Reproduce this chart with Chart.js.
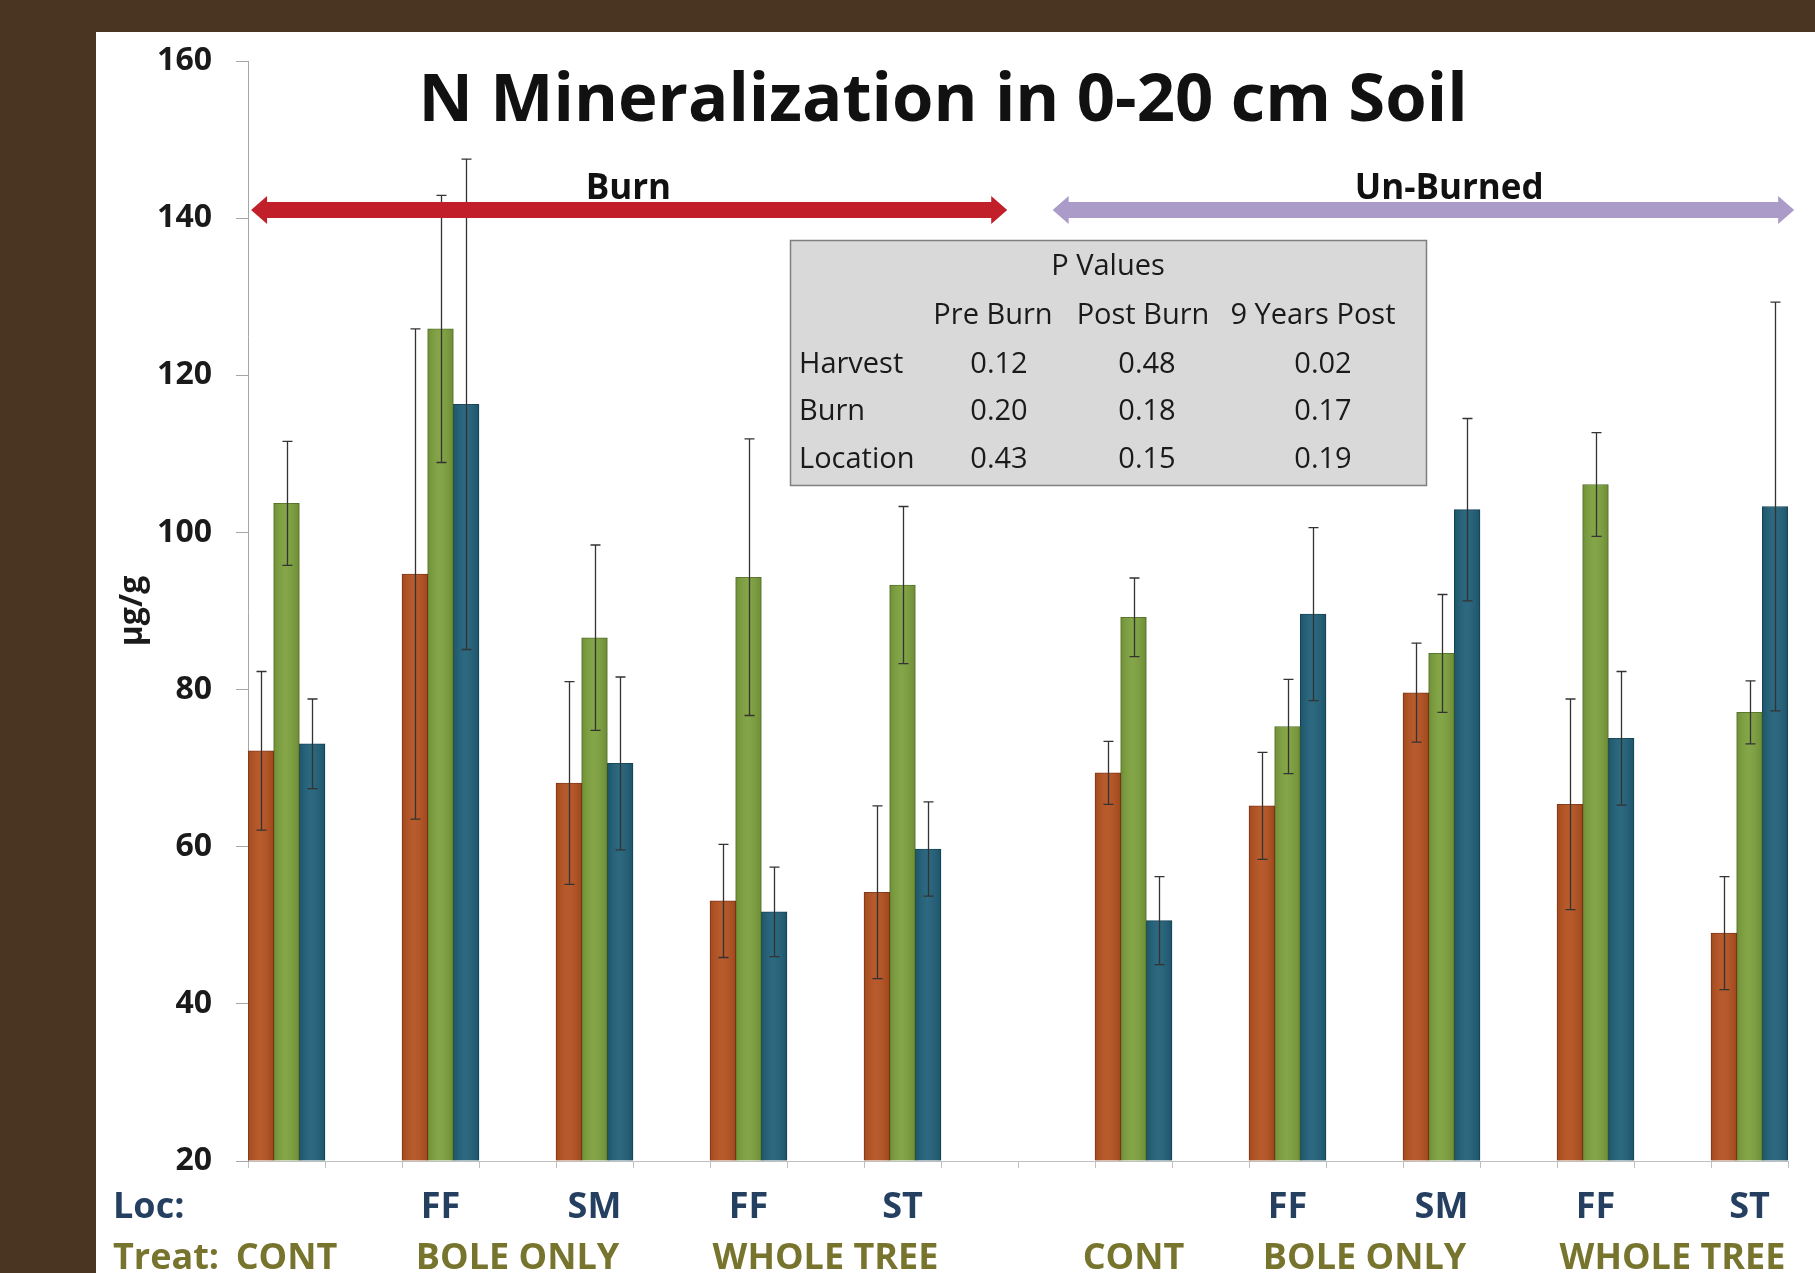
<!DOCTYPE html>
<html>
<head>
<meta charset="utf-8">
<script src="https://cdn.jsdelivr.net/npm/chart.js@4.4.1/dist/chart.umd.min.js"></script>
<style>
  html, body { margin: 0; padding: 0; width: 1815px; height: 1273px; overflow: hidden; background: #4a3523; }
  #panel { position: absolute; left: 96px; top: 32px; width: 1719px; height: 1241px; background: #ffffff; }
  canvas { display: block; }
</style>
</head>
<body>
<div id="panel"><canvas id="chart" width="1719" height="1241"></canvas></div>
<script>
// Category slots along the x axis (empty slots separate the plot groups)
const slots = ['CONT', '', 'FF', '', 'SM', '', 'FF', '', 'ST', '', '', 'CONT', '', 'FF', '', 'SM', '', 'FF', '', 'ST'];
const locLabels = ['', '', 'FF', '', 'SM', '', 'FF', '', 'ST', '', '', '', '', 'FF', '', 'SM', '', 'FF', '', 'ST'];
const treatLabels = ['CONT', '', '', 'BOLE ONLY', '', '', '', 'WHOLE TREE', '', '', '', 'CONT', '', '', 'BOLE ONLY', '', '', '', 'WHOLE TREE', ''];

// N mineralization (µg/g) and standard errors
const preBurn    = [72.2, null, 94.7, null, 68.1, null, 53.1, null, 54.2, null, null, 69.4, null, 65.2, null, 79.6, null, 65.4, null, 49.0];
const postBurn   = [103.7, null, 125.9, null, 86.6, null, 94.3, null, 93.3, null, null, 89.2, null, 75.3, null, 84.6, null, 106.1, null, 77.1];
const nineYears  = [73.1, null, 116.3, null, 70.6, null, 51.7, null, 59.7, null, null, 50.6, null, 89.6, null, 102.9, null, 73.8, null, 103.3];
const preBurnErr   = [10.1, null, 31.2, null, 12.9, null, 7.2, null, 11.0, null, null, 4.0, null, 6.8, null, 6.3, null, 13.4, null, 7.2];
const postBurnErr  = [7.9, null, 17.0, null, 11.8, null, 17.6, null, 10.0, null, null, 5.0, null, 6.0, null, 7.5, null, 6.6, null, 4.0];
const nineYearsErr = [5.7, null, 31.2, null, 11.0, null, 5.7, null, 6.0, null, null, 5.6, null, 11.0, null, 11.6, null, 8.5, null, 26.0];

const yTicks = [20, 40, 60, 80, 100, 120, 140, 160];

// P value table
const pColumns = ['Pre Burn', 'Post Burn', '9 Years Post'];
const pRows = ['Harvest', 'Burn', 'Location'];
const pHarvest  = ['0.12', '0.48', '0.02'];
const pBurn     = ['0.20', '0.18', '0.17'];
const pLocation = ['0.43', '0.15', '0.19'];

const FONT = '"Open Sans", "Noto Sans", "DejaVu Sans", sans-serif';

// Soft cylinder shading over each bar
const barShade = {
  id: 'barShade',
  afterDatasetsDraw(chart) {
    const ctx = chart.ctx;
    ctx.save();
    chart.data.datasets.forEach((ds, di) => {
      chart.getDatasetMeta(di).data.forEach((bar, i) => {
        if (ds.data[i] == null) return;
        const w = bar.width, left = bar.x - w / 2;
        const g = ctx.createLinearGradient(left, 0, left + w, 0);
        g.addColorStop(0, 'rgba(0,0,0,0.10)');
        g.addColorStop(0.45, 'rgba(255,255,255,0.06)');
        g.addColorStop(1, 'rgba(0,0,0,0.12)');
        ctx.fillStyle = g;
        ctx.fillRect(left, bar.y, w, bar.base - bar.y);
      });
    });
    ctx.restore();
  }
};

const errorBars = {
  id: 'errorBars',
  afterDatasetsDraw(chart) {
    const ctx = chart.ctx;
    const y = chart.scales.y;
    ctx.save();
    ctx.strokeStyle = '#333333';
    ctx.lineWidth = 1.3;
    chart.data.datasets.forEach((ds, di) => {
      const meta = chart.getDatasetMeta(di);
      meta.data.forEach((bar, i) => {
        const v = ds.data[i], e = ds.errors[i];
        if (v == null || e == null) return;
        const x = Math.round(bar.x) + 0.5;
        const top = y.getPixelForValue(v + e);
        const bot = y.getPixelForValue(v - e);
        ctx.beginPath();
        ctx.moveTo(x, top); ctx.lineTo(x, bot);
        ctx.moveTo(x - 5, top); ctx.lineTo(x + 5, top);
        ctx.moveTo(x - 5, bot); ctx.lineTo(x + 5, bot);
        ctx.stroke();
      });
    });
    ctx.restore();
  }
};

function arrow(ctx, x1, x2, yc, color) {
  const sh = 8, hl = 16, hh = 14;
  ctx.fillStyle = color;
  ctx.beginPath();
  ctx.moveTo(x1, yc);
  ctx.lineTo(x1 + hl, yc - hh);
  ctx.lineTo(x1 + hl, yc - sh);
  ctx.lineTo(x2 - hl, yc - sh);
  ctx.lineTo(x2 - hl, yc - hh);
  ctx.lineTo(x2, yc);
  ctx.lineTo(x2 - hl, yc + hh);
  ctx.lineTo(x2 - hl, yc + sh);
  ctx.lineTo(x1 + hl, yc + sh);
  ctx.lineTo(x1 + hl, yc + hh);
  ctx.closePath();
  ctx.fill();
}

const annotations = {
  id: 'annotations',
  afterDraw(chart) {
    const ctx = chart.ctx;
    const xs = chart.scales.x, ys = chart.scales.y;
    const area = chart.chartArea;
    ctx.save();

    // Title
    ctx.fillStyle = '#111111';
    ctx.textAlign = 'center';
    ctx.textBaseline = 'alphabetic';
    ctx.font = 'bold 67px ' + FONT;
    ctx.fillText('N Mineralization in 0-20 cm Soil', 847, 89);

    // Burn / Un-Burned arrows
    const ay = ys.getPixelForValue(141.05);
    arrow(ctx, xs.getPixelForValue(-0.46), xs.getPixelForValue(9.36), ay, '#c1202a');
    arrow(ctx, xs.getPixelForValue(9.95), xs.getPixelForValue(19.58), ay, '#ab9bc9');
    ctx.fillStyle = '#111111';
    ctx.font = 'bold 35px ' + FONT;
    ctx.fillText('Burn', xs.getPixelForValue(4.44), ay - 11);
    ctx.fillText('Un-Burned', xs.getPixelForValue(15.1), ay - 11);

    // P value box
    const bx = 694, by = 208, bw = 636, bh = 245;
    ctx.fillStyle = '#d9d9d9';
    ctx.fillRect(bx, by, bw, bh);
    ctx.strokeStyle = '#7f7f7f';
    ctx.lineWidth = 1.5;
    ctx.strokeRect(bx + 0.5, by + 0.5, bw, bh);
    ctx.fillStyle = '#1a1a1a';
    ctx.font = '29px ' + FONT;
    ctx.textBaseline = 'middle';
    ctx.textAlign = 'center';
    ctx.fillText('P Values', 1012, 235);
    const colX = [903, 1051, 1227];
    const headX = [897, 1047, 1217];
    pColumns.forEach((c, i) => ctx.fillText(c, headX[i], 284));
    const rowY = [333, 380, 428];
    [pHarvest, pBurn, pLocation].forEach((row, r) => {
      ctx.textAlign = 'left';
      ctx.fillText(pRows[r], 703, rowY[r]);
      ctx.textAlign = 'center';
      row.forEach((v, c) => ctx.fillText(v, colX[c], rowY[r]));
    });

    // Location / treatment rows under the axis
    ctx.textBaseline = 'alphabetic';
    const locY = area.bottom + 57, treatY = area.bottom + 108;
    ctx.font = 'bold 36px ' + FONT;
    ctx.fillStyle = '#243f60';
    ctx.textAlign = 'left';
    ctx.fillText('Loc:', 17, locY);
    ctx.textAlign = 'center';
    locLabels.forEach((t, i) => { if (t) ctx.fillText(t, xs.getPixelForValue(i), locY); });
    ctx.fillStyle = '#77742d';
    ctx.textAlign = 'left';
    ctx.fillText('Treat:', 17, treatY);
    ctx.textAlign = 'center';
    treatLabels.forEach((t, i) => { if (t) ctx.fillText(t, xs.getPixelForValue(i), treatY); });

    ctx.restore();
  }
};

const barStyle = { categoryPercentage: 1.0, barPercentage: 1.0, borderWidth: 1, base: 20 };

new Chart(document.getElementById('chart'), {
  type: 'bar',
  data: {
    labels: slots,
    datasets: [
      Object.assign({ label: 'Pre Burn', data: preBurn, errors: preBurnErr, backgroundColor: '#b4511f', borderColor: '#86391a' }, barStyle),
      Object.assign({ label: 'Post Burn', data: postBurn, errors: postBurnErr, backgroundColor: '#7ca03c', borderColor: '#5a7729' }, barStyle),
      Object.assign({ label: '9 Years Post', data: nineYears, errors: nineYearsErr, backgroundColor: '#1f5f78', borderColor: '#154657' }, barStyle)
    ]
  },
  options: {
    responsive: false,
    devicePixelRatio: 1,
    animation: false,
    layout: { padding: { left: 0, right: 27, top: 29, bottom: 0 } },
    plugins: { legend: { display: false }, tooltip: { enabled: false }, title: { display: false } },
    scales: {
      x: {
        ticks: { display: false },
        grid: { drawOnChartArea: false, offset: true, tickLength: 7, color: '#bfbfbf' },
        border: { color: '#bfbfbf' },
        afterFit(scale) { scale.height = 112; }
      },
      y: {
        min: 20, max: 160,
        afterBuildTicks(scale) { scale.ticks = yTicks.map(v => ({ value: v })); },
        ticks: { color: '#1a1a1a', padding: 24, font: { family: FONT, size: 32, weight: 'bold' } },
        grid: { drawOnChartArea: false, tickLength: 12, color: '#a6a6a6' },
        border: { color: '#a6a6a6' },
        title: { display: true, text: 'µg/g', color: '#1a1a1a', padding: { top: 18, bottom: 0 }, font: { family: FONT, size: 32, weight: 'bold' } },
        afterFit(scale) { scale.width = 152; scale.paddingTop = 0; scale.paddingBottom = 0; }
      }
    }
  },
  plugins: [barShade, errorBars, annotations]
});
</script>
</body>
</html>
